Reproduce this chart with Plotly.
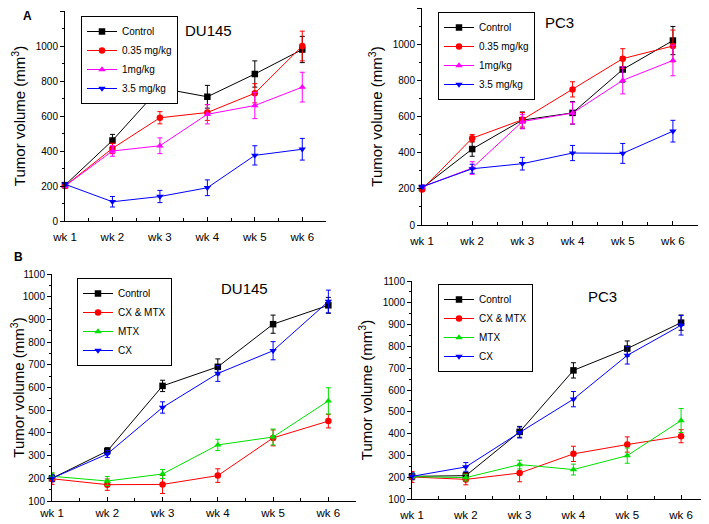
import plotly.graph_objects as go

weeks = [1, 2, 3, 4, 5, 6]
week_labels = ["wk 1", "wk 2", "wk 3", "wk 4", "wk 5", "wk 6"]

# panel A, DU145
du_a_names = ["Control", "0.35 mg/kg", "1mg/kg", "3.5 mg/kg"]
du_a_control = [205, 460, 760, 710, 840, 980]
du_a_control_err = [10, 35, 45, 65, 75, 75]
du_a_035 = [200, 415, 590, 620, 730, 1000]
du_a_035_err = [10, 30, 35, 45, 55, 85]
du_a_1 = [200, 400, 430, 610, 660, 765]
du_a_1_err = [10, 30, 45, 55, 75, 85]
du_a_35 = [210, 110, 140, 190, 375, 410]
du_a_35_err = [10, 30, 35, 45, 55, 62]

# panel A, PC3
pc_a_control = [205, 420, 580, 620, 860, 1020]
pc_a_control_err = [10, 40, 45, 62, 70, 78]
pc_a_035 = [196, 480, 582, 750, 920, 990]
pc_a_035_err = [10, 20, 40, 42, 55, 88]
pc_a_1 = [210, 315, 572, 619, 800, 910]
pc_a_1_err = [10, 35, 40, 60, 75, 85]
pc_a_35 = [211, 311, 339, 398, 396, 519]
pc_a_35_err = [10, 25, 35, 42, 55, 60]

# panel B, DU145
b_names = ["Control", "CX & MTX", "MTX", "CX"]
du_b_control = [200, 320, 607, 691, 879, 962]
du_b_control_err = [15, 15, 25, 35, 40, 35]
du_b_cxmtx = [198, 172, 173, 212, 378, 452]
du_b_cxmtx_err = [25, 25, 40, 30, 35, 30]
du_b_mtx = [209, 188, 219, 347, 382, 541]
du_b_mtx_err = [15, 20, 20, 25, 35, 58]
du_b_cx = [200, 307, 512, 662, 762, 979]
du_b_cx_err = [15, 15, 25, 35, 40, 50]

# panel B, PC3
pc_b_control = [204, 207, 408, 690, 790, 909]
pc_b_control_err = [15, 15, 25, 35, 35, 35]
pc_b_cxmtx = [201, 190, 219, 307, 350, 388]
pc_b_cxmtx_err = [25, 25, 40, 35, 35, 30]
pc_b_mtx = [203, 198, 258, 235, 299, 460]
pc_b_mtx_err = [15, 15, 20, 25, 35, 55]
pc_b_cx = [204, 247, 405, 558, 759, 897]
pc_b_cx_err = [15, 20, 25, 35, 40, 45]

FONT = "Arial, Liberation Sans, sans-serif"
a_colors = ["#000000", "#ff0000", "#ff00ff", "#0000ff"]
b_colors = ["#000000", "#ff0000", "#00e000", "#0000ff"]
symbols = ["square", "circle", "triangle-up", "triangle-down"]

# the page body adds an 8px offset, so the figure is a bit smaller than the window
OFF = 8
W, H = 709 - OFF, 524 - OFF


def px(x):
    return min(max((x - OFF) / W, 0), 1)


def py(y):
    return min(max(1 - (y - OFF) / H, 0), 1)


fig = go.Figure()


def add_panel(n, names, colors, series, errors, legend_name):
    for name, color, sym, ys, es in zip(names, colors, symbols, series, errors):
        fig.add_trace(go.Scatter(
            x=weeks, y=ys, name=name, mode="lines+markers",
            line=dict(color=color, width=1),
            marker=dict(symbol=sym, size=6.5, color=color),
            error_y=dict(type="data", array=es, color=color, thickness=1, width=2.5),
            xaxis="x" + n, yaxis="y" + n, legend=legend_name, cliponaxis=False,
        ))


add_panel("", du_a_names, a_colors, [du_a_control, du_a_035, du_a_1, du_a_35],
          [du_a_control_err, du_a_035_err, du_a_1_err, du_a_35_err], "legend")
add_panel("2", du_a_names, a_colors, [pc_a_control, pc_a_035, pc_a_1, pc_a_35],
          [pc_a_control_err, pc_a_035_err, pc_a_1_err, pc_a_35_err], "legend2")
add_panel("3", b_names, b_colors, [du_b_control, du_b_cxmtx, du_b_mtx, du_b_cx],
          [du_b_control_err, du_b_cxmtx_err, du_b_mtx_err, du_b_cx_err], "legend3")
add_panel("4", b_names, b_colors, [pc_b_control, pc_b_cxmtx, pc_b_mtx, pc_b_cx],
          [pc_b_control_err, pc_b_cxmtx_err, pc_b_mtx_err, pc_b_cx_err], "legend4")


def xax(left, right, anchor, standoff):
    return dict(domain=[px(left), px(right)], anchor=anchor, range=[1, 6.5],
                tickvals=weeks, ticktext=week_labels, ticklabelstandoff=standoff,
                showline=True, linecolor="black", linewidth=1, ticks="inside", ticklen=4,
                tickcolor="black", showgrid=False, zeroline=False, automargin=False,
                tickfont=dict(size=11.5, color="black", family=FONT),
                minor=dict(dtick=0.5, tick0=1.5, ticks="inside", ticklen=3, tickcolor="black"))


def yax(top, bottom, anchor, rng, dtick):
    return dict(domain=[py(bottom), py(top)], anchor=anchor, range=rng, dtick=dtick,
                showline=True, linecolor="black", linewidth=1, ticks="outside", ticklen=4,
                tickcolor="black", showgrid=False, zeroline=False, automargin=False,
                tickfont=dict(size=10, color="black", family=FONT),
                title=dict(text="Tumor volume (mm<sup>3</sup>)", standoff=6,
                           font=dict(size=15, color="black", family=FONT)),
                minor=dict(dtick=dtick / 2, ticks="outside", ticklen=2, tickcolor="black"))


def legend_box(x, y):
    return dict(x=px(x), y=py(y), xanchor="left", yanchor="top", bgcolor="white",
                bordercolor="black", borderwidth=1, tracegroupgap=0, itemwidth=30,
                font=dict(size=10, color="black", family=FONT))


def label(text, x, y, size):
    return dict(text=text, x=px(x), y=py(y), xref="paper", yref="paper", showarrow=False,
                xanchor="center", yanchor="middle",
                font=dict(size=size, color="black", family=FONT))


fig.update_layout(
    width=W, height=H,
    margin=dict(l=0, r=0, t=0, b=0, autoexpand=False),
    plot_bgcolor="white", paper_bgcolor="white",
    font=dict(family=FONT, color="black"),
    xaxis=xax(65, 326, "y", 5),
    yaxis=yax(11, 221, "x", [0, 1200], 200),
    xaxis2=xax(422, 698, "y2", 5),
    yaxis2=yax(8, 225, "x2", [0, 1200], 200),
    xaxis3=xax(52, 356, "y3", 1),
    yaxis3=yax(274, 501, "x3", [100, 1100], 100),
    xaxis4=xax(412, 708, "y4", 5),
    yaxis4=yax(281, 499, "x4", [100, 1100], 100),
    legend=legend_box(81, 16),
    legend2=legend_box(438, 12),
    legend3=legend_box(77, 278),
    legend4=legend_box(438, 284),
    annotations=[
        label("DU145", 208, 31, 15),
        label("PC3", 559, 22, 15),
        label("DU145", 244, 288, 15),
        label("PC3", 602, 296, 15),
        label("<b>A</b>", 27, 16, 12),
        label("<b>B</b>", 18, 257, 12),
    ],
)

fig.write_html("out.html")
